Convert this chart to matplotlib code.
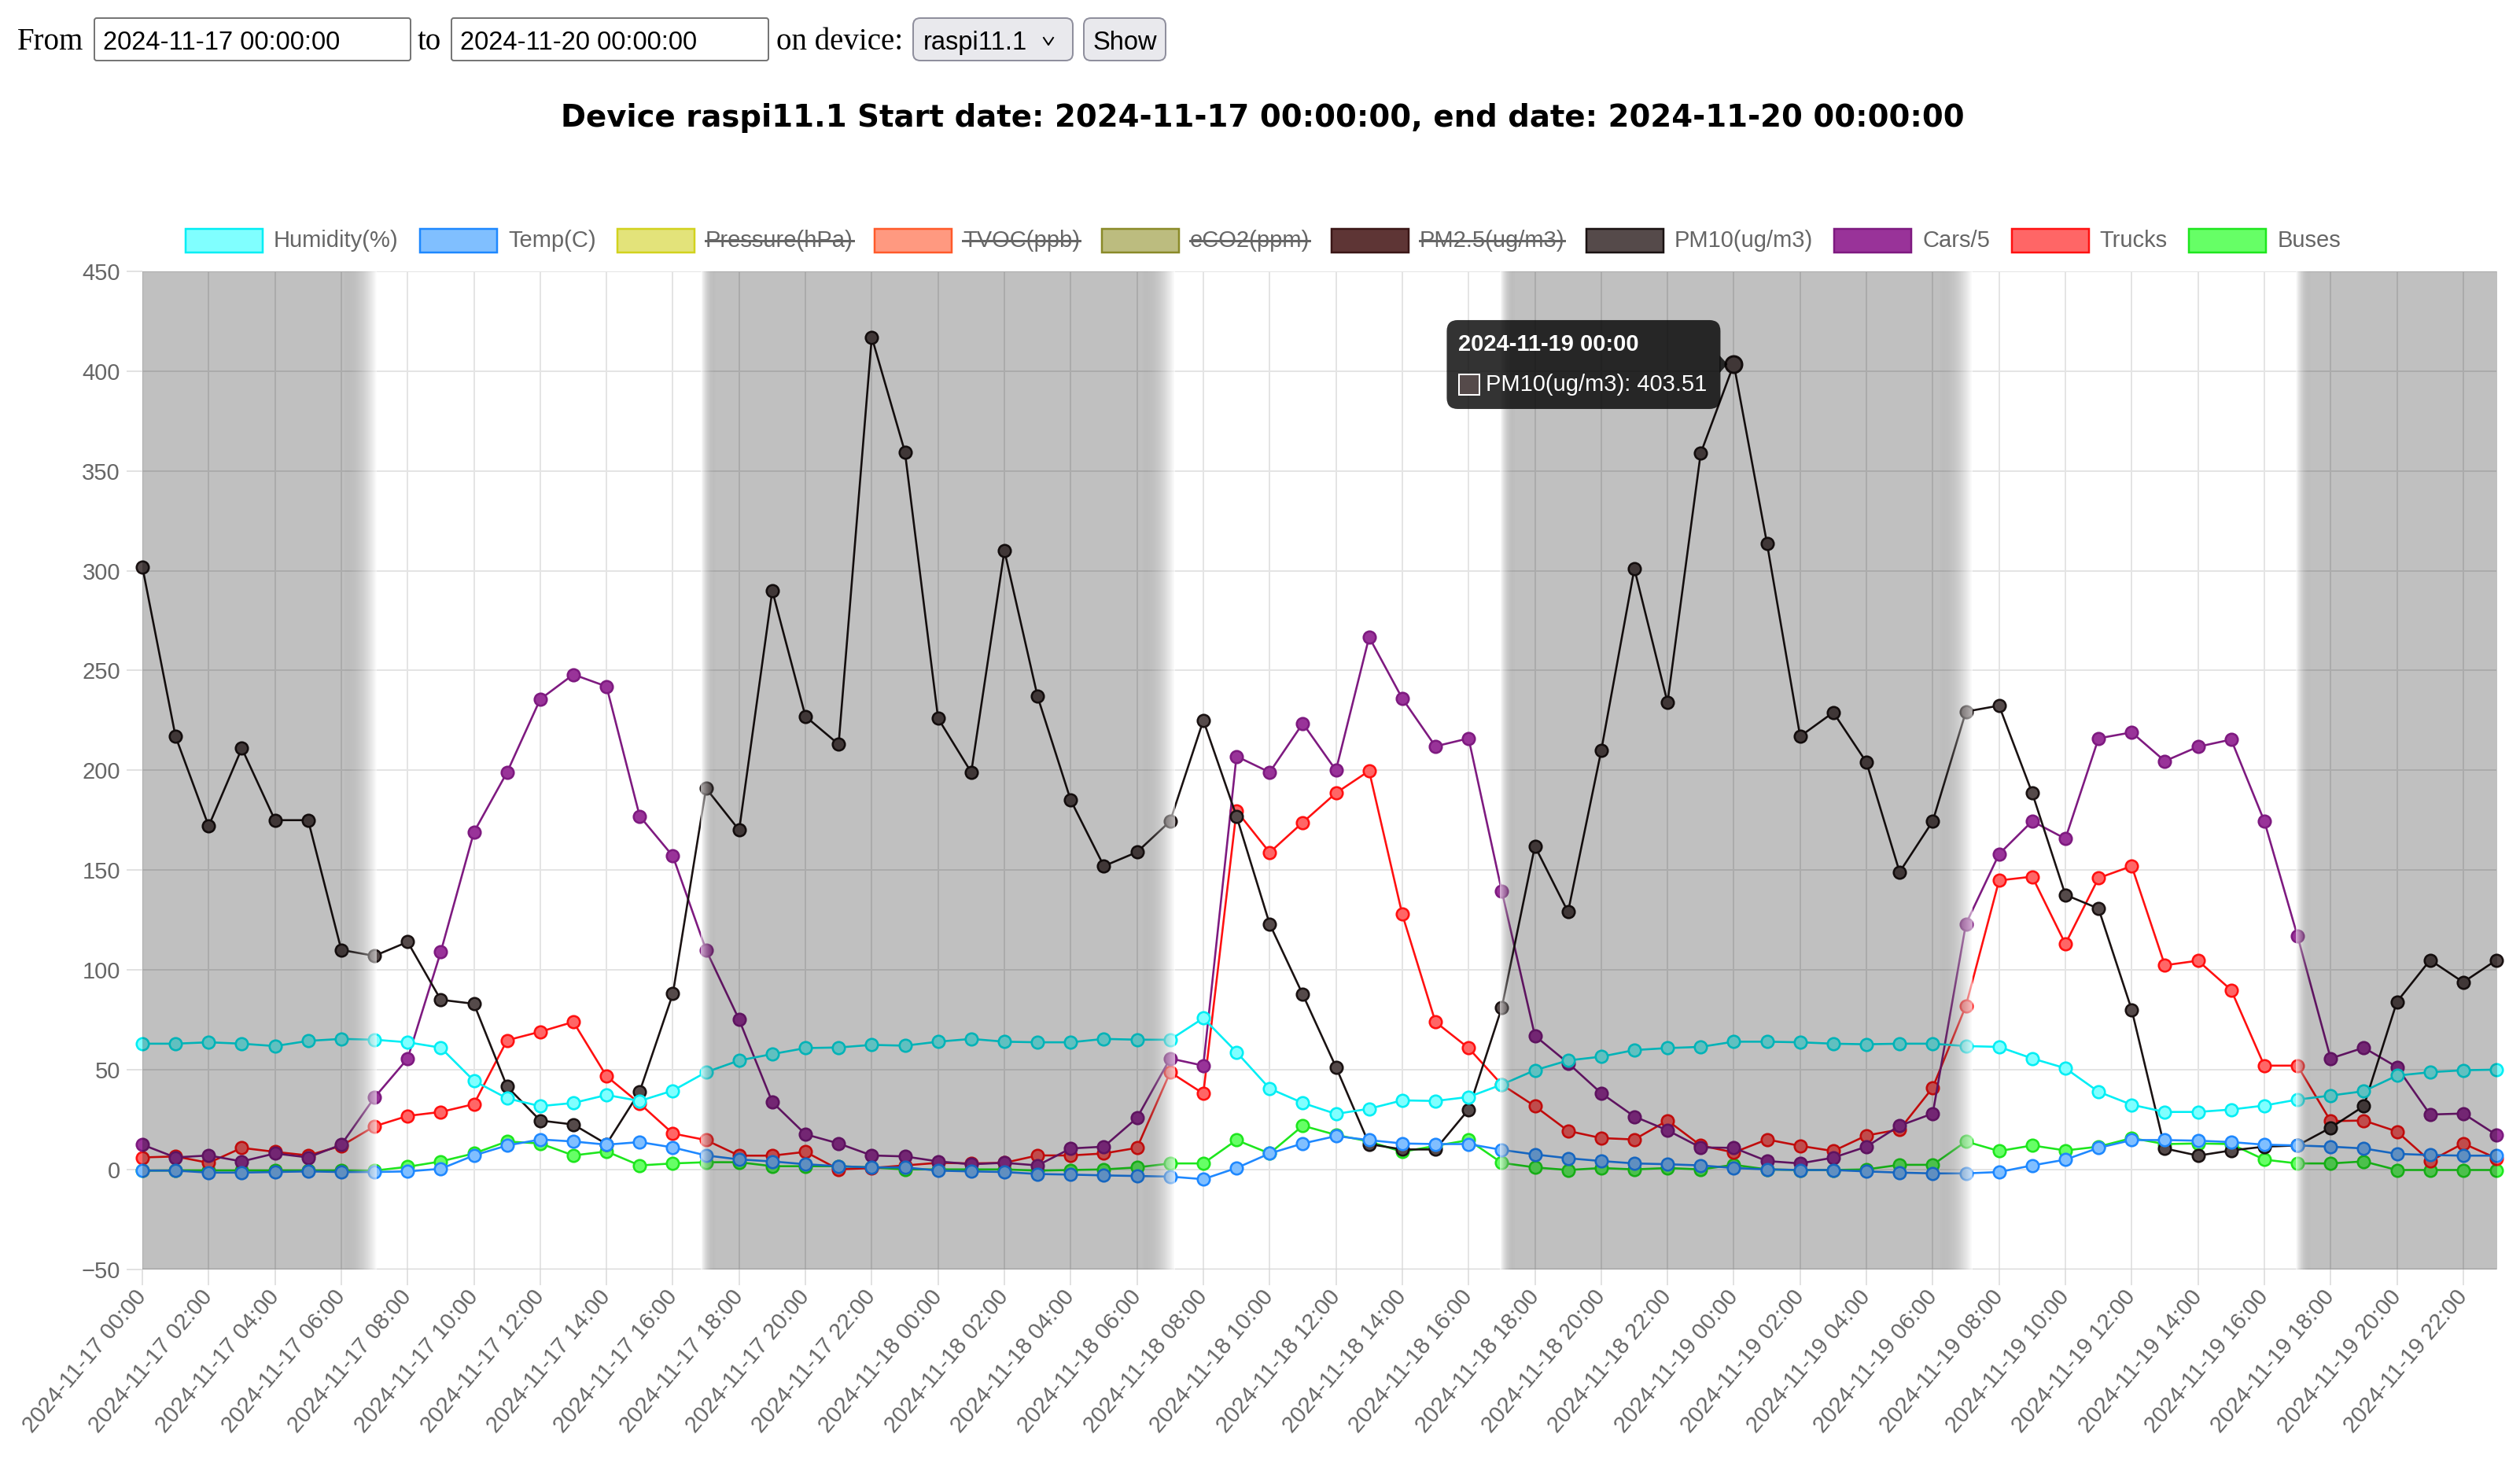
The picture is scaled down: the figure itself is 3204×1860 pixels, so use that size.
import numpy as np
import pandas as pd
import matplotlib
matplotlib.use('Agg')
import matplotlib.pyplot as plt
from matplotlib.patches import FancyBboxPatch, Rectangle, Polygon
from matplotlib.lines import Line2D

# ---------------- data ----------------
times = pd.date_range('2024-11-17 00:00', periods=72, freq='h')
hours = np.arange(len(times))
tick_labels = [t.strftime('%Y-%m-%d %H:%M') for t in times[::2]]

humidity = [63, 63, 63.7, 63, 61.8, 64.4, 65.4, 65, 63.7, 61, 44.4, 35.6, 31.7, 33.3, 37.3, 34.3,
            39.5, 48.7, 54.6, 57.8, 60.8, 61.1, 62.4, 62, 64, 65.4, 64, 63.7, 63.7, 65.4, 65, 65,
            75.8, 58.8, 40.5, 33.3, 27.8, 30.4, 34.6, 34.3, 36.3, 42.5, 49.7, 54.6, 56.5, 59.8, 60.8, 61.4,
            64, 64, 63.7, 63, 62.7, 63, 63, 61.8, 61.4, 55.6, 50.7, 38.9, 32.4, 28.8, 28.8, 30,
            32, 35, 37, 39.2, 47, 48.7, 49.7, 50]
temp = [-0.6, -0.6, -1.6, -1.6, -1.3, -1, -1.3, -1.3, -1, 0.3, 7, 12, 15, 14, 12.4, 13.7,
        11, 7, 5, 4, 2.6, 1.6, 1, 1, -0.6, -1, -1.3, -2.3, -2.6, -3, -3.3, -3.6,
        -4.9, 0.7, 8, 13, 16.7, 14.7, 13, 12.7, 12.7, 9.8, 7.5, 5.6, 4.2, 3, 2.6, 2,
        0.7, 0, -0.3, -0.3, -1, -1.6, -2, -2, -1.3, 2, 4.9, 10.8, 14.7, 14.7, 14.4, 13.7,
        12.4, 12, 11.4, 10.5, 7.8, 7.2, 6.9, 6.9]
pm10 = [302, 217, 172, 211, 175, 175, 110, 107, 114, 85, 83, 41.5, 24.5, 22.5, 12.7, 39,
        88, 191, 170, 290, 227, 213, 417, 359.5, 226, 199, 310, 237, 185, 152, 159, 174.5,
        225, 177, 123, 87.6, 51.3, 12.7, 10, 10, 30, 81, 162, 129, 209.8, 301, 234, 358.8,
        403.51, 313.7, 217, 229, 204, 149, 174.5, 229.4, 232.4, 188.6, 137.6, 130.7, 80, 10.5, 6.9, 9.5,
        11.4, 12, 20.9, 31.7, 84, 104.9, 93.8, 104.9]
cars5 = [12.4, 6, 7, 4, 8, 6, 12.4, 36, 55.5, 109, 169, 199, 235.6, 248, 242, 177,
         157, 110, 75, 33.7, 17.6, 13, 7, 6.5, 4, 2.6, 3.3, 2, 10.5, 11.4, 25.8, 55.6,
         52, 207, 199, 223.5, 200, 266.7, 236, 212, 216, 139.5, 67, 53.3, 38.2, 26.5, 19.6, 11,
         10.8, 4.2, 3, 5.9, 11.4, 21.9, 28, 123, 158, 174.5, 165.7, 216, 219, 204.6, 211.8, 215.4,
         174.5, 117, 55.6, 61, 51.3, 27.5, 28, 17.3]
trucks = [6, 6.5, 3.3, 10.8, 8.8, 7, 11.8, 21.6, 26.8, 28.8, 32.7, 64.7, 69, 73.9, 46.7, 33,
          18, 14.7, 6.9, 6.9, 8.8, 0, 0.7, 2, 3.3, 3, 3.3, 7, 7, 8, 10.8, 48.7,
          38, 179.7, 158.8, 173.9, 188.6, 199.7, 127.8, 73.9, 60.8, 42.5, 31.7, 19.3, 15.7, 15, 24.5, 12,
          8.5, 15, 11.8, 9.2, 17, 20, 41, 82, 144.8, 146.7, 113, 146, 152, 102.3, 104.6, 89.9,
          52, 52, 24.2, 24.5, 19, 4.2, 13, 5.6]
buses = [-0.6, -0.5, -0.5, -0.5, -0.5, -0.5, -0.5, -0.6, 1.3, 4, 8, 14, 13, 7, 9, 2,
         3, 3.6, 3.6, 1.6, 1.6, 1.6, 1, 0, 0, 0, 0, -0.6, -0.3, 0, 1, 3,
         3, 14.7, 8, 21.9, 17.3, 14, 8.8, 11.8, 14.7, 3.3, 1, -0.3, 0.7, 0, 0.7, 0,
         2.3, 0, -0.3, -0.3, 0, 2.3, 2.3, 14, 9.2, 12, 9.5, 11.4, 15.7, 12.7, 13, 12.7,
         4.9, 3, 3, 4, -0.3, -0.3, -0.3, -0.3]

series_names = ['Humidity(%)', 'Temp(C)', 'Pressure(hPa)', 'TVOC(ppb)', 'eCO2(ppm)',
                'PM2.5(ug/m3)', 'PM10(ug/m3)', 'Cars/5', 'Trucks', 'Buses']
series_hidden = [False, False, True, True, True, True, False, False, False, False]
series_values = [humidity, temp, None, None, None, None, pm10, cars5, trucks, buses]
series_line = ['#00eef4', '#1e88ff', '#d2d21e', '#ff5a2a', '#8a8a28', '#3a1616',
               '#1a1212', '#7e1a80', '#ff1010', '#1ee61e']
series_fill = ['#80ffff', '#80bfff', '#e3e37a', '#ff9980', '#bcbc7f', '#5e3535',
               '#554a4a', '#993399', '#ff6666', '#66ff66']

# night shading (hours since start)
night_start = [0.0, 16.85, 40.95, 64.95]
night_end = [7.05, 31.15, 55.2, 71.0]

hover_index = 48
hover_series = 'PM10(ug/m3)'

form_from = '2024-11-17 00:00:00'
form_to = '2024-11-20 00:00:00'
device = 'raspi11.1'

# ---------------- figure ----------------
W, H = 3205, 1860
fig = plt.figure(figsize=(W / 100, H / 100), dpi=100)
SANS = ['Liberation Sans', 'DejaVu Sans']
SERIF = ['Liberation Serif', 'DejaVu Serif']

px = 72 / 100  # points per pixel
left, right, top, bottom = 181, 3174, 345, 1613.6
ax = fig.add_axes([left / W, 1 - bottom / H, (right - left) / W, (bottom - top) / H])
ax.set_xlim(0, len(times) - 1)
ax.set_ylim(-50, 450)
for s in ax.spines.values():
    s.set_visible(False)
ax.set_yticks(np.arange(-50, 451, 50))
ax.set_xticks(hours[::2])
ax.set_xticklabels(tick_labels, rotation=50, ha='right', va='center', rotation_mode='anchor',
                   fontsize=21, color='#666666', family=SANS)
for lab in ax.get_yticklabels():
    lab.set_fontsize(21)
    lab.set_color('#666666')
    lab.set_family(SANS)
ax.tick_params(axis='both', length=20 * px, width=2 * px, color='#e2e2e2')
ax.tick_params(axis='y', pad=8 * px)
ax.tick_params(axis='x', pad=10 * px)
ax.grid(True, color='#e4e4e4', linewidth=2 * px, zorder=0)
ax.set_axisbelow(True)
ax.axhline(-50, color='#d6d6d6', lw=2.5 * px, zorder=1)

# series
nvis = len(series_names)
for i, (name, vals, lc, fc, hid) in enumerate(zip(series_names, series_values, series_line,
                                                   series_fill, series_hidden)):
    if hid or vals is None:
        continue
    z = 10 + (nvis - i) * 0.5
    ax.plot(hours, vals, color=lc, lw=2.6 * px, marker='o', ms=15.5 * px, mfc=fc, mec=lc,
            mew=2.6 * px, clip_on=False, zorder=z)
    if name == hover_series:
        ax.plot([hours[hover_index]], [vals[hover_index]], marker='o', ms=21 * px, mfc=fc,
                mec=lc, mew=3 * px, clip_on=False, zorder=z + 0.1)

# shading overlay
core = np.array([0.0, 0.0, 0.0, 0.25])
edge = np.array([1.0, 1.0, 1.0, 0.6])
xmin, xmax = 0, len(times) - 1
for a, b in zip(night_start, night_end):
    n = 600
    xs = np.linspace(a, b, n)
    w = np.zeros(n)
    if a > xmin:
        w = np.maximum(w, np.clip(1 - (xs - a) / 0.45, 0, 1))
    if b < xmax:
        w = np.maximum(w, np.clip(1 - (b - xs) / 1.0, 0, 1))
    rgba = core[None, :] * (1 - w)[:, None] + edge[None, :] * w[:, None]
    ax.imshow(rgba[None, :, :], extent=(a, b, -50, 450), aspect='auto',
              interpolation='nearest', zorder=30)
ax.set_xlim(xmin, xmax)
ax.set_ylim(-50, 450)

# ---------------- overlay (page elements) ----------------
ov = fig.add_axes([0, 0, 1, 1], zorder=5)
ov.set_xlim(0, W)
ov.set_ylim(H, 0)
ov.axis('off')


def box(x0, y0, x1, y1, fc, ec, r=4, lw=2):
    p = FancyBboxPatch((x0, y0), x1 - x0, y1 - y0, boxstyle=f'round,pad=0,rounding_size={r}',
                       fc=fc, ec=ec, lw=lw * px)
    ov.add_patch(p)


ty = 63
ov.text(22, ty, 'From', family=SERIF, fontsize=28, va='baseline', ha='left')
box(120, 23, 522, 77, 'white', '#767676', r=3)
ov.text(131, ty, form_from, family=SANS, fontsize=23.5, va='baseline', ha='left')
ov.text(531, ty, 'to', family=SERIF, fontsize=28, va='baseline', ha='left')
box(574, 23, 977, 77, 'white', '#767676', r=3)
ov.text(585, ty, form_to, family=SANS, fontsize=23.5, va='baseline', ha='left')
ov.text(987, ty, 'on device:', family=SERIF, fontsize=28, va='baseline', ha='left')
box(1161, 23, 1364, 77, '#e9e9ed', '#8f8f9d', r=9)
ov.text(1174, ty, device, family=SANS, fontsize=23.5, va='baseline', ha='left')
ov.add_line(Line2D([1327, 1333, 1339], [48, 57, 48], color='black', lw=2 * px))
box(1378, 23, 1482, 77, '#e9e9ed', '#8f8f9d', r=9)
ov.text(1430, ty, 'Show', family=SANS, fontsize=23.5, va='baseline', ha='center')

title = f'Device {device} Start date: {form_from}, end date: {form_to}'
ov.text(1605, 150, title, family=['DejaVu Sans'], fontweight='bold', fontsize=27.8,
        va='center', ha='center')

# legend
renderer = fig.canvas.get_renderer()
fs_leg = 21
widths = []
for name in series_names:
    t = ov.text(0, 0, name, family=SANS, fontsize=fs_leg)
    bb = t.get_window_extent(renderer)
    widths.append(bb.width)
    t.remove()
boxw, boxh, gap, pad = 98, 30, 14, 27.5
total = sum(boxw + gap + w_ for w_ in widths) + pad * (len(widths) - 1)
cx = 1606 - total / 2
ly = 306
for name, lc, fc, hid, tw in zip(series_names, series_line, series_fill, series_hidden, widths):
    ov.add_patch(Rectangle((cx, ly - boxh / 2), boxw, boxh, fc=fc, ec=lc, lw=2.5 * px))
    tx = cx + boxw + gap
    ov.text(tx, ly, name, family=SANS, fontsize=fs_leg, color='#666666', va='center', ha='left')
    if hid:
        ov.add_line(Line2D([tx, tx + tw], [ly, ly], color='#666666', lw=3 * px))
    cx = tx + tw + pad

# tooltip anchored at hovered point
hi = series_names.index(hover_series)
hv = series_values[hi][hover_index]
dx, dy = ax.transData.transform((hours[hover_index], hv))
pxx, pyy = dx, H - dy
bx1 = pxx - 17
bx0 = bx1 - 348
by0, by1 = pyy - 56, pyy + 57
box(bx0, by0, bx1, by1, (0, 0, 0, 0.8), 'none', r=14, lw=0)
ov.add_patch(Polygon([[bx1 - 1, pyy - 11], [pxx - 8, pyy], [bx1 - 1, pyy + 11]],
                     closed=True, fc=(0, 0, 0, 0.8), ec='none'))
ov.text(bx0 + 15, by0 + 31, times[hover_index].strftime('%Y-%m-%d %H:%M'), family=SANS,
        fontsize=21, fontweight='bold', color='white', va='center', ha='left')
ov.add_patch(Rectangle((bx0 + 16, by0 + 69), 26, 26, fc=series_fill[hi], ec='white', lw=2 * px))
ov.text(bx0 + 50, by0 + 82, f'{hover_series}: {hv:.2f}', family=SANS, fontsize=21,
        color='white', va='center', ha='left')

fig.savefig('out.png', dpi=100)
